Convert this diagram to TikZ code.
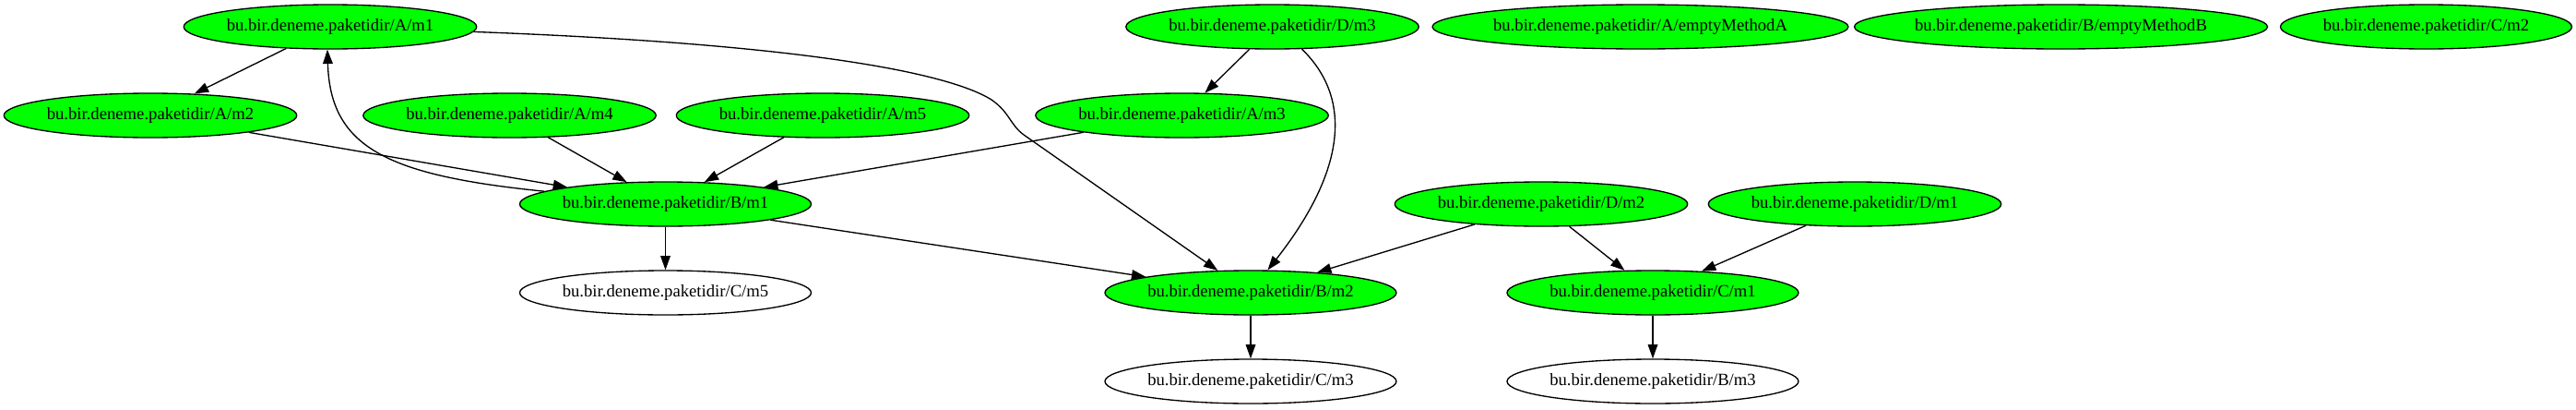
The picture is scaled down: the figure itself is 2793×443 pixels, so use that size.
\documentclass[tikz,border=0pt]{standalone}
\usepackage{fontspec}
\setmainfont{Liberation Serif}
\usetikzlibrary{shapes.geometric,arrows.meta}
\definecolor{nodegreen}{RGB}{0,255,0}
\tikzset{
  gv/.style={ellipse, draw=black, line width=1pt, minimum width=236pt, minimum height=36pt, inner sep=0pt,
    font=\fontsize{14pt}{16pt}\selectfont},
  gvg/.style={gv, fill=nodegreen},
  gvw/.style={gv, fill=white},
  wide/.style={minimum width=325pt},
  edge/.style={line width=1pt, -{Triangle[length=11.5pt,width=8pt]}}
}
\begin{document}
\begin{tikzpicture}[x=0.75pt,y=-0.75pt]
\useasboundingbox (0,0) rectangle (2793,443);
% rank 1
\node[gvg] (am1) at (358,29) {bu.bir.deneme.paketidir/A/m1};
\node[gvg] (dm3) at (1379.5,29) {bu.bir.deneme.paketidir/D/m3};
\node[gvg,wide] (ea) at (1778.5,29) {bu.bir.deneme.paketidir/A/emptyMethodA};
\node[gvg,wide] (eb) at (2234.5,29) {bu.bir.deneme.paketidir/B/emptyMethodB};
\node[gvg] (cm2) at (2630.5,29) {bu.bir.deneme.paketidir/C/m2};
% rank 2
\node[gvg] (am2) at (163,125) {bu.bir.deneme.paketidir/A/m2};
\node[gvg] (am4) at (552.5,125) {bu.bir.deneme.paketidir/A/m4};
\node[gvg] (am5) at (892,125) {bu.bir.deneme.paketidir/A/m5};
\node[gvg] (am3) at (1281.5,125) {bu.bir.deneme.paketidir/A/m3};
% rank 3
\node[gvg] (bm1) at (721.5,221) {bu.bir.deneme.paketidir/B/m1};
\node[gvg] (dm2) at (1671,221) {bu.bir.deneme.paketidir/D/m2};
\node[gvg] (dm1) at (2011,221) {bu.bir.deneme.paketidir/D/m1};
% rank 4
\node[gvw] (cm5) at (721.5,317) {bu.bir.deneme.paketidir/C/m5};
\node[gvg] (bm2) at (1356,317) {bu.bir.deneme.paketidir/B/m2};
\node[gvg] (cm1) at (1792,317) {bu.bir.deneme.paketidir/C/m1};
% rank 5
\node[gvw] (cm3) at (1356,413) {bu.bir.deneme.paketidir/C/m3};
\node[gvw] (bm3) at (1792,413) {bu.bir.deneme.paketidir/B/m3};
% edges
\draw[edge] (am1) -- (am2);
\draw[edge] (bm1.174) .. controls (420,190) and (358,160) .. (am1.263);
\draw[edge] (am1.358) .. controls (880,48) and (1030,80) .. (1075,108)
  .. controls (1095,122) and (1095,135) .. (1110,146) -- (bm2.146);
\draw[edge] (am2) -- (bm1);
\draw[edge] (am4) -- (bm1);
\draw[edge] (am5) -- (bm1);
\draw[edge] (am3) -- (bm1);
\draw[edge] (dm3) -- (am3);
\draw[edge] (dm3.323) .. controls (1470,110) and (1455,190) .. (bm2.53);
\draw[edge] (bm1) -- (cm5);
\draw[edge] (bm1) -- (bm2);
\draw[edge] (dm2) -- (bm2);
\draw[edge] (dm2) -- (cm1);
\draw[edge] (dm1) -- (cm1);
\draw[edge] (bm2) -- (cm3);
\draw[edge] (cm1) -- (bm3);
\end{tikzpicture}
\end{document}
